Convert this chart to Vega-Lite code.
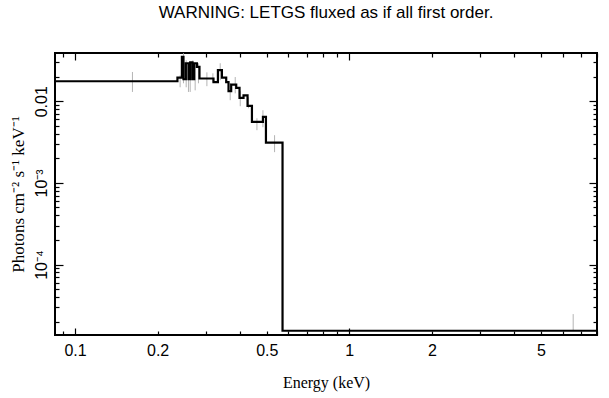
{
  "$schema": "https://vega.github.io/schema/vega-lite/v6.json",
  "width": 542,
  "height": 282,
  "autosize": "none",
  "padding": {"left": 55, "top": 53, "right": 12, "bottom": 63},
  "background": "white",
  "title": {"text": "WARNING: LETGS fluxed as if all first order.", "font": "Liberation Sans", "fontSize": 17, "fontWeight": "normal", "color": "black", "offset": 30, "anchor": "middle"},
  "config": {
    "view": {"stroke": "black", "strokeWidth": 2},
    "axis": {"grid": false, "domain": false, "tickColor": "black", "tickWidth": 1.2, "labelColor": "black", "titleColor": "black", "labelFont": "Liberation Sans", "labelFontSize": 16, "titleFont": "Liberation Serif", "titleFontSize": 16, "titleFontWeight": "normal"}
  },
  "datasets": {
    "step": [
      {"E": 0.0845, "F": 0.01757},
      {"E": 0.2362, "F": 0.0195},
      {"E": 0.2452, "F": 0.0349},
      {"E": 0.2485, "F": 0.0186},
      {"E": 0.2535, "F": 0.0292},
      {"E": 0.2591, "F": 0.0186},
      {"E": 0.2629, "F": 0.0300},
      {"E": 0.2680, "F": 0.0186},
      {"E": 0.2719, "F": 0.0292},
      {"E": 0.2781, "F": 0.0263},
      {"E": 0.2842, "F": 0.0190},
      {"E": 0.3197, "F": 0.0172},
      {"E": 0.3318, "F": 0.0240},
      {"E": 0.3431, "F": 0.0195},
      {"E": 0.3557, "F": 0.0172},
      {"E": 0.3627, "F": 0.0133},
      {"E": 0.3709, "F": 0.0160},
      {"E": 0.3869, "F": 0.0146},
      {"E": 0.3978, "F": 0.0110},
      {"E": 0.4114, "F": 0.0118},
      {"E": 0.4255, "F": 0.00876},
      {"E": 0.4415, "F": 0.00558},
      {"E": 0.4842, "F": 0.00642},
      {"E": 0.4966, "F": 0.00312},
      {"E": 0.5708, "F": 0.00001545},
      {"E": 8.0, "F": 0.00001545}
    ],
    "err": [
      {"E": 0.1619, "lo": 0.0130, "hi": 0.02284},
      {"E": 0.2416, "lo": 0.01484, "hi": 0.0208},
      {"E": 0.2485, "lo": 0.0166, "hi": 0.0387},
      {"E": 0.2542, "lo": 0.01484, "hi": 0.0318},
      {"E": 0.2591, "lo": 0.0130, "hi": 0.0198},
      {"E": 0.2629, "lo": 0.0130, "hi": 0.0292},
      {"E": 0.2689, "lo": 0.0197, "hi": 0.0318},
      {"E": 0.2741, "lo": 0.0136, "hi": 0.0292},
      {"E": 0.2818, "lo": 0.0166, "hi": 0.0292},
      {"E": 0.3025, "lo": 0.0153, "hi": 0.0226},
      {"E": 0.3181, "lo": 0.0171, "hi": 0.0220},
      {"E": 0.3382, "lo": 0.0181, "hi": 0.0292},
      {"E": 0.3679, "lo": 0.0103, "hi": 0.0166},
      {"E": 0.3837, "lo": 0.0125, "hi": 0.0198},
      {"E": 0.4002, "lo": 0.00869, "hi": 0.0133},
      {"E": 0.4291, "lo": 0.00821, "hi": 0.0112},
      {"E": 0.4604, "lo": 0.00442, "hi": 0.00619},
      {"E": 0.4842, "lo": 0.00481, "hi": 0.00776},
      {"E": 0.5339, "lo": 0.00238, "hi": 0.00384},
      {"E": 6.55, "lo": 0.0000153, "hi": 0.0000247}
    ]
  },
  "resolve": {"scale": {"x": "shared", "y": "shared"}, "axis": {"x": "independent", "y": "independent"}},
  "layer": [
    {
      "data": {"name": "err"},
      "mark": {"type": "rule", "color": "#b4b4b4", "strokeWidth": 1, "clip": true},
      "encoding": {
        "x": {"field": "E", "type": "quantitative", "scale": {"type": "log", "domain": [0.0845, 8], "nice": false},
          "axis": {"orient": "bottom", "values": [0.09, 0.2, 0.3, 0.4, 0.5, 0.6, 0.7, 0.8, 0.9, 2, 3, 4, 5, 6, 7, 8], "labels": false, "tickSize": -4, "title": null}},
        "y": {"field": "lo", "type": "quantitative", "scale": {"type": "log", "domain": [0.0000137, 0.039], "nice": false},
          "axis": {"orient": "left", "values": [0.00002, 0.00003, 0.00004, 0.00005, 0.00006, 0.00007, 0.00008, 0.00009, 0.0002, 0.0003, 0.0004, 0.0005, 0.0006, 0.0007, 0.0008, 0.0009, 0.002, 0.003, 0.004, 0.005, 0.006, 0.007, 0.008, 0.009, 0.02, 0.03], "labels": false, "tickSize": -4, "title": null}},
        "y2": {"field": "hi"}
      }
    },
    {
      "data": {"name": "step"},
      "mark": {"type": "line", "interpolate": "step-after", "opacity": 0, "clip": true},
      "encoding": {
        "x": {"field": "E", "type": "quantitative", "scale": {"type": "log", "domain": [0.0845, 8], "nice": false},
          "axis": {"orient": "bottom", "values": [0.1, 1], "labels": false, "tickSize": -7, "title": null}},
        "y": {"field": "F", "type": "quantitative", "scale": {"type": "log", "domain": [0.0000137, 0.039], "nice": false},
          "axis": {"orient": "left", "values": [0.0001, 0.001, 0.01], "labels": false, "tickSize": -8, "title": null}}
      }
    },
    {
      "data": {"name": "step"},
      "mark": {"type": "line", "interpolate": "step-after", "color": "black", "strokeWidth": 2.2, "clip": true},
      "encoding": {
        "x": {"field": "E", "type": "quantitative", "scale": {"type": "log", "domain": [0.0845, 8], "nice": false},
          "axis": {"orient": "bottom", "values": [0.1, 0.2, 0.5, 1, 2, 5], "format": "~g", "ticks": false, "tickSize": 0, "labelPadding": 7, "title": "Energy (keV)", "titlePadding": 16}},
        "y": {"field": "F", "type": "quantitative", "scale": {"type": "log", "domain": [0.0000137, 0.039], "nice": false},
          "axis": {"orient": "left", "values": [0.0001, 0.001, 0.01], "labelExpr": "datum.value == 0.01 ? '0.01' : (datum.value == 0.001 ? '10⁻³' : '10⁻⁴')", "ticks": false, "tickSize": 0, "labelPadding": 6, "labelAngle": -90, "labelAlign": "center", "labelBaseline": "bottom", "title": "Photons cm⁻² s⁻¹ keV⁻¹", "titleFontSize": 17, "titlePadding": 6}}
      }
    },
    {
      "data": {"name": "step"},
      "mark": {"type": "line", "interpolate": "step-after", "opacity": 0, "clip": true},
      "encoding": {
        "x": {"field": "E", "type": "quantitative", "scale": {"type": "log", "domain": [0.0845, 8], "nice": false},
          "axis": {"orient": "top", "values": [0.09, 0.2, 0.3, 0.4, 0.5, 0.6, 0.7, 0.8, 0.9, 2, 3, 4, 5, 6, 7, 8], "labels": false, "tickSize": -4, "title": null}},
        "y": {"field": "F", "type": "quantitative", "scale": {"type": "log", "domain": [0.0000137, 0.039], "nice": false},
          "axis": {"orient": "right", "values": [0.00002, 0.00003, 0.00004, 0.00005, 0.00006, 0.00007, 0.00008, 0.00009, 0.0002, 0.0003, 0.0004, 0.0005, 0.0006, 0.0007, 0.0008, 0.0009, 0.002, 0.003, 0.004, 0.005, 0.006, 0.007, 0.008, 0.009, 0.02, 0.03], "labels": false, "tickSize": -4, "title": null}}
      }
    },
    {
      "data": {"name": "step"},
      "mark": {"type": "line", "interpolate": "step-after", "opacity": 0, "clip": true},
      "encoding": {
        "x": {"field": "E", "type": "quantitative", "scale": {"type": "log", "domain": [0.0845, 8], "nice": false},
          "axis": {"orient": "top", "values": [0.1, 1], "labels": false, "tickSize": -7, "title": null}},
        "y": {"field": "F", "type": "quantitative", "scale": {"type": "log", "domain": [0.0000137, 0.039], "nice": false},
          "axis": {"orient": "right", "values": [0.0001, 0.001, 0.01], "labels": false, "tickSize": -8, "title": null}}
      }
    }
  ]
}
